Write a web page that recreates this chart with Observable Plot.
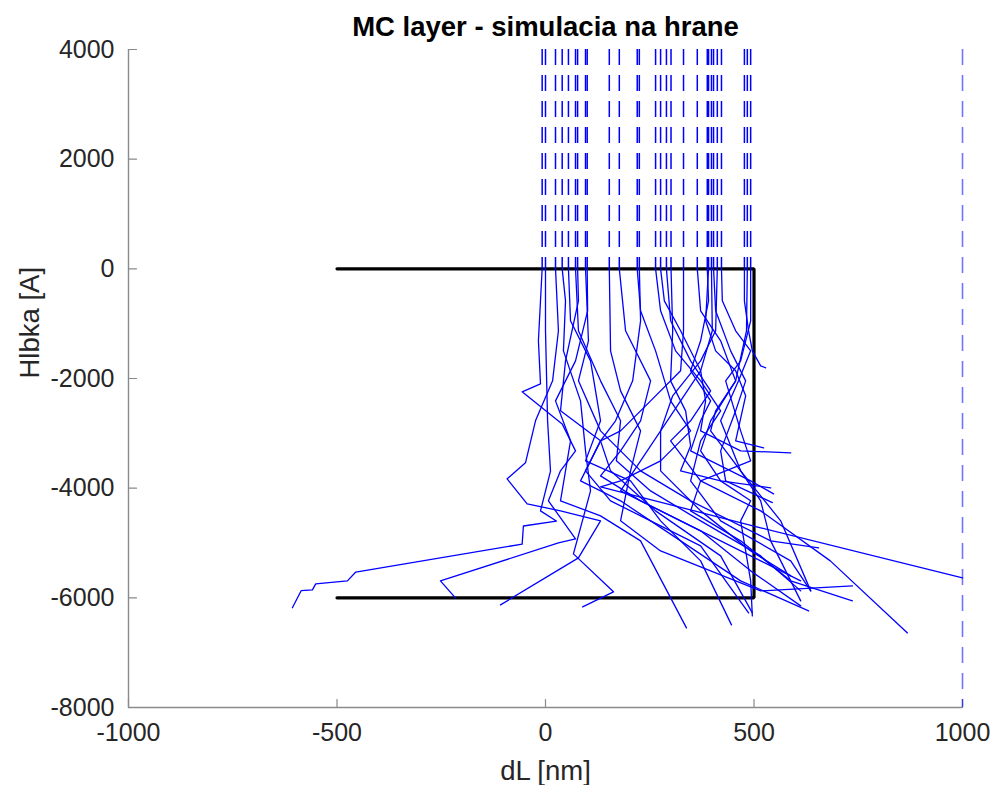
<!DOCTYPE html>
<html>
<head>
<meta charset="utf-8">
<script src="https://cdn.jsdelivr.net/npm/d3@7"></script>
<script src="https://cdn.jsdelivr.net/npm/@observablehq/plot@0.6"></script>
<style>
  body { margin: 0; background: #fff; }
  #chart svg { display: block; }
</style>
</head>
<body>
<div id="chart"></div>
<script>
// ---- data ----
const titleText = "MC layer - simulacia na hrane";
const xLabel = "dL [nm]";
const yLabel = "Hlbka [A]";
const xTicks = [-1000, -500, 0, 500, 1000];
const yTicks = [-8000, -6000, -4000, -2000, 0, 2000, 4000];
const xDomain = [-1000, 1000];
const yDomain = [-8000, 4000];

// incoming beam positions (dashed, from beamTop down to surface)
const beamTop = 4000;
const surface = 0;
const entryX = [-8, 0, 24, 40, 55, 72, 77, 96, 100, 153, 177, 220, 225, 264, 276, 290, 301, 331, 364, 388, 391, 398, 403, 412, 422, 477, 484, 492];
const edgeBeamX = [1000];

// layer outline
const layerX = [-500, 500, 500, -500];
const layerY = [0, 0, -6000, -6000];

// electron trajectories [x, y]
const tA = [[0,0],[0,-1130],[5,-2770],[12,-3690],[-12,-4415],[26,-4600],[-53,-4690],[-56,-5020],[-455,-5530],[-475,-5690],[-551,-5745],[-559,-5855],[-586,-5870],[-607,-6180]];
const tB = [[-8,0],[-17,-1313],[-12,-2098],[-56,-2243],[40,-2828],[72,-3320],[36,-3684],[7,-4231],[72,-4925],[31,-4998],[-252,-5690],[-216,-6000]];
const tC = [[24,0],[31,-1130],[17,-2043],[-24,-2772],[-48,-3538],[-92,-3830],[-44,-4286],[36,-4414],[132,-4596],[79,-5271],[-108,-6129]];
const tD = [[40,0],[48,-584],[43,-1496],[84,-2408],[96,-3320],[108,-4050],[67,-5198],[163,-5890],[89,-6165]];
const tE = [[55,0],[60,-948],[108,-1678],[132,-2772],[96,-3502],[204,-3867],[276,-4596],[372,-5326],[446,-6493]];
const tF = [[72,0],[79,-1130],[132,-2043],[180,-2772],[170,-3502],[252,-4050],[372,-4596],[516,-5235],[612,-5873]];
const tG = [[77,0],[79,-584],[48,-1678],[36,-2590],[132,-3137],[156,-3684],[264,-4414],[420,-5235],[496,-6275]];
const tH = [[96,0],[103,-1313],[79,-2043],[132,-2955],[228,-3684],[348,-4231],[540,-4961],[655,-5089]];
const tI = [[100,0],[101,-766],[72,-1678],[24,-2408],[60,-3137],[36,-4231],[132,-4505],[228,-4961],[338,-6548]];
const tJ = [[153,0],[156,-1496],[180,-2225],[228,-2955],[204,-3684],[180,-4596],[276,-5144],[516,-5873],[736,-5782]];
const tK = [[177,0],[192,-1130],[252,-2043],[228,-2772],[180,-3320],[132,-3776],[228,-4231],[372,-4778],[492,-5508],[612,-6147]];
const tL = [[220,0],[228,-766],[264,-1496],[300,-2408],[348,-2955],[276,-3502],[180,-3867],[132,-3976],[516,-4724],[1000,-5636]];
const tM = [[225,0],[228,-948],[209,-2043],[168,-2772],[132,-3137],[96,-3684],[156,-4231],[252,-4596],[372,-5052],[487,-6275]];
const tN = [[264,0],[276,-766],[312,-1496],[372,-2043],[420,-2590],[372,-3137],[348,-3867],[420,-4596],[588,-5326],[636,-5873]];
const tO = [[276,0],[285,-584],[324,-1130],[372,-1860],[384,-2408],[372,-2955],[468,-3320],[588,-3356]];
const tP = [[290,0],[300,-948],[348,-1678],[396,-2225],[348,-2772],[300,-3137],[372,-3867],[516,-4414],[683,-5326],[868,-6640]];
const tQ = [[301,0],[305,-1130],[300,-2043],[336,-2590],[348,-3228],[324,-3684],[420,-3867],[540,-3995]];
const tR = [[331,0],[331,-1130],[324,-1860],[252,-2408],[180,-2955],[132,-3137],[84,-3867],[180,-4231],[324,-4961],[468,-5690],[631,-6238]];
const tS = [[364,0],[372,-766],[420,-1313],[456,-2043],[408,-2590],[396,-2955],[468,-3684],[516,-4231],[540,-4961],[612,-6056]];
const tT = [[388,0],[391,-584],[372,-1313],[348,-1860],[396,-2408],[372,-2772],[348,-3320],[492,-3867],[547,-4104]];
const tU = [[391,0],[384,-948],[408,-1496],[456,-1860],[480,-2316],[456,-3137],[523,-3265]];
const tV = [[398,0],[400,-1130],[372,-1860],[324,-2408],[276,-2955],[228,-3502],[180,-4050],[324,-4596],[516,-5326],[588,-5600]];
const tW = [[403,0],[408,-766],[444,-1496],[480,-2043],[456,-2590],[420,-3320],[432,-3867],[544,-4263]];
const tX = [[412,0],[408,-1130],[372,-1678],[305,-2316],[276,-2955],[276,-3684],[372,-4414],[492,-5144],[588,-5600],[612,-5690]];
const tY = [[422,0],[424,-584],[456,-1130],[492,-1496],[463,-2043],[420,-2772],[468,-3684],[564,-4596],[636,-5873]];
const tZ = [[477,0],[477,-584],[487,-1130],[496,-1496],[516,-1769],[528,-1805]];
const tAA = [[484,0],[482,-1130],[456,-2043],[396,-2772],[372,-3320],[420,-3867],[492,-4231],[468,-4596],[492,-5690],[496,-6329]];
const tAB = [[492,0],[492,-948],[468,-1678],[432,-2043],[468,-2955],[492,-3502],[372,-3867],[348,-4414],[468,-4961],[588,-5690],[736,-6056]];
const trajectories = [tA,tB,tC,tD,tE,tF,tG,tH,tI,tJ,tK,tL,tM,tN,tO,tP,tQ,tR,tS,tT,tU,tV,tW,tX,tY,tZ,tAA,tAB];

// ---- build ----
const trajRows = trajectories.flatMap((pts, i) => pts.map(([x, y]) => ({x, y, id: i})));
const layerRows = layerX.map((x, i) => ({x, y: layerY[i]}));

const axisColor = "#8a8a8a";
const textColor = "#262626";
const tickShape = { draw(context, l) { context.moveTo(0, 0); context.lineTo(0, -l); } };

const chart = Plot.plot({
  width: 993,
  height: 785,
  marginLeft: 128,
  marginRight: 31,
  marginTop: 49,
  marginBottom: 78,
  x: { domain: xDomain },
  y: { domain: yDomain },
  style: { fontFamily: "'Liberation Sans', Arial, Helvetica, sans-serif", background: "#ffffff", color: textColor },
  marks: [
    // axes lines
    Plot.ruleX([xDomain[0]], { stroke: axisColor, strokeWidth: 1.4 }),
    Plot.ruleY([yDomain[0]], { stroke: axisColor, strokeWidth: 1.4 }),
    // inward ticks
    Plot.vector(yTicks, { y: d => d, frameAnchor: "left", rotate: 90, length: 8, anchor: "start", shape: tickShape, stroke: axisColor, strokeWidth: 1.2 }),
    Plot.vector(xTicks, { x: d => d, frameAnchor: "bottom", rotate: 0, length: 8, anchor: "start", shape: tickShape, stroke: axisColor, strokeWidth: 1.2 }),
    // tick labels
    Plot.axisX({ ticks: xTicks, tickSize: 0, tickPadding: 16, fontSize: 25, label: null, tickFormat: d => String(d), fill: textColor }),
    Plot.axisY({ ticks: yTicks, tickSize: 0, tickPadding: 14, fontSize: 25, label: null, tickFormat: d => String(d), fill: textColor }),
    // layer outline
    Plot.line(layerRows, { x: "x", y: "y", stroke: "#000000", strokeWidth: 3.2, strokeLinejoin: "miter" }),
    // incoming beams
    Plot.ruleX(entryX, { y1: beamTop, y2: surface, stroke: "#0000ff", strokeWidth: 1.5, strokeDasharray: "16,10" }),
    Plot.ruleX(edgeBeamX, { y1: beamTop, y2: yDomain[0], stroke: "#0000ff", strokeOpacity: 0.55, strokeWidth: 1.6, strokeDasharray: "16,10" }),
    // trajectories
    Plot.line(trajRows, { x: "x", y: "y", z: "id", stroke: "#0000ff", strokeWidth: 1.3 }),
    // titles
    Plot.text([titleText], { frameAnchor: "top", lineAnchor: "middle", dy: -22, fontSize: 27.5, fontWeight: "bold", fill: "#000000" }),
    Plot.text([xLabel], { frameAnchor: "bottom", lineAnchor: "middle", dy: 64, fontSize: 27.5, fill: textColor }),
    Plot.text([yLabel], { frameAnchor: "left", lineAnchor: "middle", dx: -98, rotate: -90, fontSize: 27.5, fill: textColor })
  ]
});
document.getElementById("chart").appendChild(chart);
</script>
</body>
</html>
